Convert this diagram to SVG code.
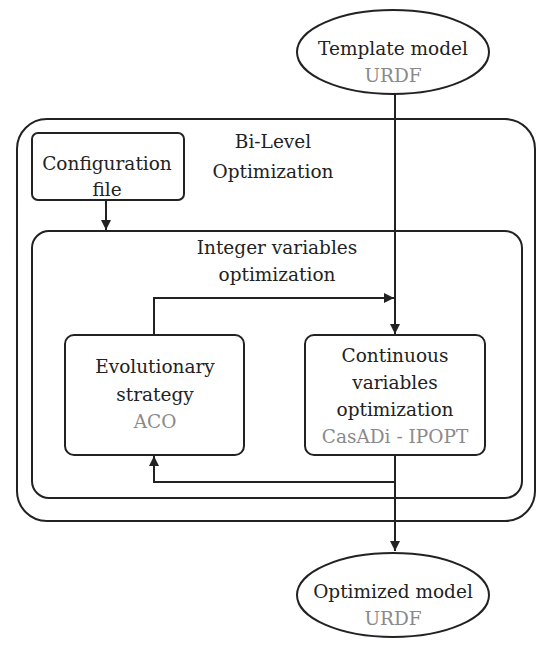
<svg xmlns="http://www.w3.org/2000/svg" width="548" height="645" viewBox="0 0 548 645">
<style>
.s{fill:none;stroke:#222;stroke-width:2}
.b{fill:#fff;stroke:#222;stroke-width:2}
.t{font-family:'DejaVu Serif', serif;font-size:18.5px;fill:#222;text-anchor:middle}
.g{fill:#8a8a8a}
</style>
<defs>
<marker id="ah" viewBox="0 0 10 10" refX="10" refY="5" markerWidth="10" markerHeight="10" markerUnits="userSpaceOnUse" orient="auto">
<path d="M0,0 L10,5 L0,10 z" fill="#222"/>
</marker>
</defs>
<g class="t">
<rect id="bilevel" class="s" x="17" y="119" width="518" height="402" rx="30"/>
<g id="bilevel-label"><text x="273" y="148">Bi-Level</text><text x="273" y="178">Optimization</text></g>
<rect id="integer" class="s" x="32" y="231" width="490" height="267" rx="17"/>
<g id="integer-label"><text x="277" y="254">Integer variables</text><text x="277" y="281">optimization</text></g>
<g id="connectors">
<path class="s" d="M395,94 V334" marker-end="url(#ah)"/>
<path class="s" d="M106,200 V230" marker-end="url(#ah)"/>
<path class="s" d="M154,335 V298 H394" marker-end="url(#ah)"/>
<path class="s" d="M395,455 V482 H154 V456" marker-end="url(#ah)"/>
<path class="s" d="M395,482 V551" marker-end="url(#ah)"/>
</g>
<g id="template">
<ellipse class="b" cx="393" cy="52" rx="96" ry="42"/>
<text x="393" y="55">Template model</text>
<text class="g" x="393" y="82">URDF</text>
</g>
<g id="config">
<rect class="b" x="32" y="133" width="152" height="67" rx="6"/>
<text x="107" y="170">Configuration</text>
<text x="107" y="196">file</text>
</g>
<g id="evolutionary">
<rect class="b" x="65" y="335" width="179" height="120" rx="9"/>
<text x="155" y="373">Evolutionary</text>
<text x="155" y="401">strategy</text>
<text class="g" x="155" y="428">ACO</text>
</g>
<g id="continuous">
<rect class="b" x="305" y="335" width="180" height="120" rx="9"/>
<text x="395" y="362">Continuous</text>
<text x="395" y="389">variables</text>
<text x="395" y="416">optimization</text>
<text class="g" x="395" y="443">CasADi - IPOPT</text>
</g>
<g id="optimized">
<ellipse class="b" cx="393" cy="595" rx="96" ry="42"/>
<text x="393" y="598">Optimized model</text>
<text class="g" x="393" y="625">URDF</text>
</g>
</g>
</svg>
